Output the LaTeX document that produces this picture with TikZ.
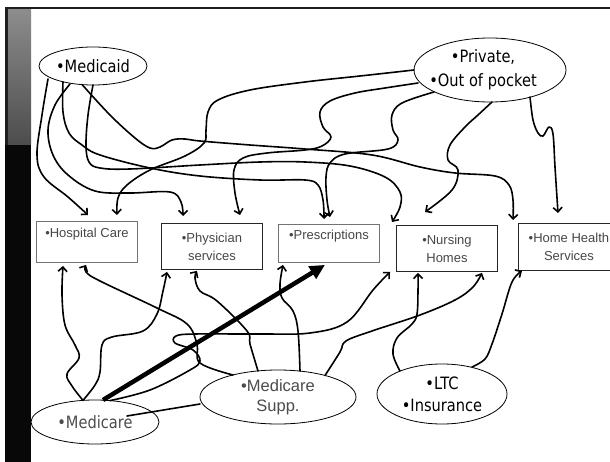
\documentclass[tikz,border=0pt]{standalone}
\usepackage{fontspec}
\setmainfont{Liberation Sans}
\newfontfamily\tah[FakeStretch=0.86]{DejaVu Sans}
\usetikzlibrary{shapes.geometric,arrows.meta,calc}
\begin{document}
\begin{tikzpicture}[x=1pt,y=-1pt,
  box/.style={draw, rectangle, inner sep=0pt, align=center, anchor=north west,
    font=\fontsize{13}{18}\selectfont, text=black!72, line width=0.9pt, minimum width=101pt},
  oval/.style={draw, ellipse, inner sep=0pt, line width=0.8pt, align=center},
  tahtext/.style={font=\tah\fontsize{17}{24}\selectfont},
  conn/.style={line width=1.6pt, -{Straight Barb[length=4.5pt,width=9pt]}, line join=round, line cap=round},
  thickarrow/.style={line width=4.5pt, -{Triangle[length=15pt,width=14pt]}},
  plain/.style={line width=1.6pt, line cap=round}]
\useasboundingbox (0,0) rectangle (610,462);
\fill[white] (0,0) rectangle (610,462);
% frame
\fill[black!88] (5,7) rectangle (610,9.5);
\fill[black!88] (5,7) rectangle (8,462);
\shade[top color=black!45, bottom color=black!70] (8,9.5) rectangle (31,145);
\fill[black!97] (5,145) rectangle (31,462);

% boxes
\node[box, draw=black!55, minimum height=41pt] (hosp) at (36,221) {•Hospital Care\\\mbox{}};
\node[box, draw=black!85, minimum height=46pt] (phys) at (161,223) {•Physician\\services};
\node[box, draw=black!55, minimum height=38pt] (presc) at (278,224) {•Prescriptions\\\mbox{}};
\node[box, draw=black!85, minimum height=46pt] (nurs) at (396,225) {•Nursing\\Homes};
\node[box, draw=black!85, minimum height=47pt] (hh) at (518,223) {•Home Health\\Services};

% ellipses
\node[oval, minimum width=108pt, minimum height=38pt, tahtext] (medicaid) at (93,66) {•Medicaid};
\node[oval, minimum width=152pt, minimum height=64pt, tahtext] (private) at (490,70) {\hspace*{-14pt}•Private,\\\hspace*{-14pt}•Out of pocket};
\node[oval, minimum width=128pt, minimum height=44pt, tahtext, text=black!70] (medicare) at (95,422) {•Medicare};
\node[oval, minimum width=156pt, minimum height=54pt, font=\fontsize{16.5}{20}\selectfont, text=black!70] (supp) at (278,397) {•Medicare\\Supp.};
\node[oval, minimum width=130pt, minimum height=60pt, font=\tah\fontsize{17}{22}\selectfont] (ltc) at (442,394) {•LTC\\•Insurance};

% Medicaid connectors
\draw[conn] plot[smooth,tension=0.6] coordinates {($(medicaid.center)+(-45,13)$) (42,115) (37,155) (44,177) (68,197) ($(hosp.north west)+(52,-6)$)};
\draw[conn] plot[smooth,tension=0.6] coordinates {($(medicaid.center)+(-23,18)$) (55,105) (48,130) (53,155) (68,175) (95,191) (130,193) (170,192) (181,202) ($(phys.north west)+(22,-7)$)};
\draw[conn] plot[smooth,tension=0.6] coordinates {($(medicaid.center)+(-30,16)$) (63,112) (69,133) (82,145) (100,155) (150,168) (200,176) (260,180) (305,180) (318,185) (323,200) ($(presc.north west)+(46,-5)$)};
\draw[conn] plot[smooth,tension=0.6] coordinates {($(medicaid.center)+(0,19)$) (88,115) (86,145) (89,162) (100,168) (130,169) (200,165) (260,162) (305,162) (350,166) (385,177) (400,192) (400,207) ($(nurs.north west)+(-4,-3)$)};
\draw[conn] plot[smooth,tension=0.6] coordinates {($(medicaid.center)+(-11,18.5)$) (110,115) (135,138) (150,148) (160,147) (172,140) (185,139) (200,141) (250,145) (305,149) (372,155) (420,167) (455,173) (495,176) (509,185) (513,200) ($(hh.north west)+(-5,-3)$)};

% Private connectors
\draw[conn] plot[smooth,tension=0.6] coordinates {($(private.center)+(-76,0)$) (360,76) (305,82) (250,90) (218,100) (208,112) (206,130) (204,143) (185,156) (150,170) (127,185) (118,198) ($(hosp.north west)+(81,-6)$)};
\draw[conn] plot[smooth,tension=0.6] coordinates {($(private.center)+(-72,13)$) (385,88) (355,93) (330,101) (320,112) (323,127) (331,137) (322,146) (305,150) (267,153) (243,158) (234,170) (235,193) ($(phys.north west)+(79,-8)$)};
\draw[conn] plot[smooth,tension=0.6] coordinates {($(private.center)+(-56,22)$) (402,103) (392,115) (393,130) (398,140) (388,149) (345,154) (330,163) (326,177) (327,200) ($(presc.north west)+(52,-7)$)};
\draw[conn] plot[smooth,tension=0.6] coordinates {($(private.center)+(2,32)$) (478,115) (465,127) (450,145) (448,160) (458,170) (452,190) ($(nurs.north west)+(29,-13)$)};
\draw[conn] plot[smooth,tension=0.6] coordinates {($(private.center)+(40,27)$) (533,120) (538,133) (543,136) (549,127) (553,134) (555,167) ($(hh.north west)+(40,-10)$)};

% Medicare connectors
\draw[conn] plot[smooth,tension=0.6] coordinates {($(medicare.center)+(-12,-21.6)$) (72,386) (67,374) (79,358) (75,345) (65,325) (62,295) ($(hosp.south west)+(27,3)$)};
\draw[conn] plot[smooth,tension=0.6] coordinates {($(medicare.center)+(-12,-21.6)$) (95,385) (100,372) (102,345) (112,337) (143,331) (157,314) (163,291) ($(phys.south west)+(6,2)$)};
\draw[conn] plot[smooth,tension=0.6] coordinates {($(medicare.center)+(15,-21.4)$) (150,390) (190,370) (200,361) (193,350) (175,343) (176,336) (195,334) (260,334) (310,333) (347,322) (373,290) ($(nurs.south west)+(-6,0)$)};
\draw[thickarrow] ($(medicare.center)+(8,-22)$) -- ($(presc.south west)+(47,2)$);

% Medicare Supp connectors
\draw[conn] plot[smooth,tension=0.6] coordinates {($(supp.center)+(-45,-22)$) (200,363) (197,344) (187,324) (157,308) (100,281) (86,272) ($(hosp.south west)+(50,2)$)};
\draw[conn] plot[smooth,tension=0.6] coordinates {($(supp.center)+(-20,-26)$) (250,344) (247,331) (217,301) (200,291) (195,278) ($(phys.south west)+(36,1)$)};
\draw[conn] plot[smooth,tension=0.6] coordinates {($(supp.center)+(22,-26)$) (298,331) (293,311) (282,298) (280,284) ($(presc.south west)+(5,2)$)};
\draw[conn] plot[smooth,tension=0.6] coordinates {($(supp.center)+(47,-21.5)$) (340,352) (346,341) (372,331) (420,315) (455,300) (473,287) ($(nurs.south west)+(86,1)$)};
\draw[plain] ($(supp.center)+(-78,7)$) -- ($(medicare.center)+(32,-6)$);

% LTC connectors
\draw[conn] plot[smooth,tension=0.6] coordinates {($(ltc.center)+(-42,-23)$) (393,354) (397,338) (412,324) (417,314) (418,291) ($(nurs.south west)+(22,1)$)};
\draw[conn] plot[smooth,tension=0.6] coordinates {($(ltc.center)+(30,-27)$) (485,359) (492,344) (502,314) (512,282) ($(hh.south west)+(4,0)$)};
\end{tikzpicture}
\end{document}
